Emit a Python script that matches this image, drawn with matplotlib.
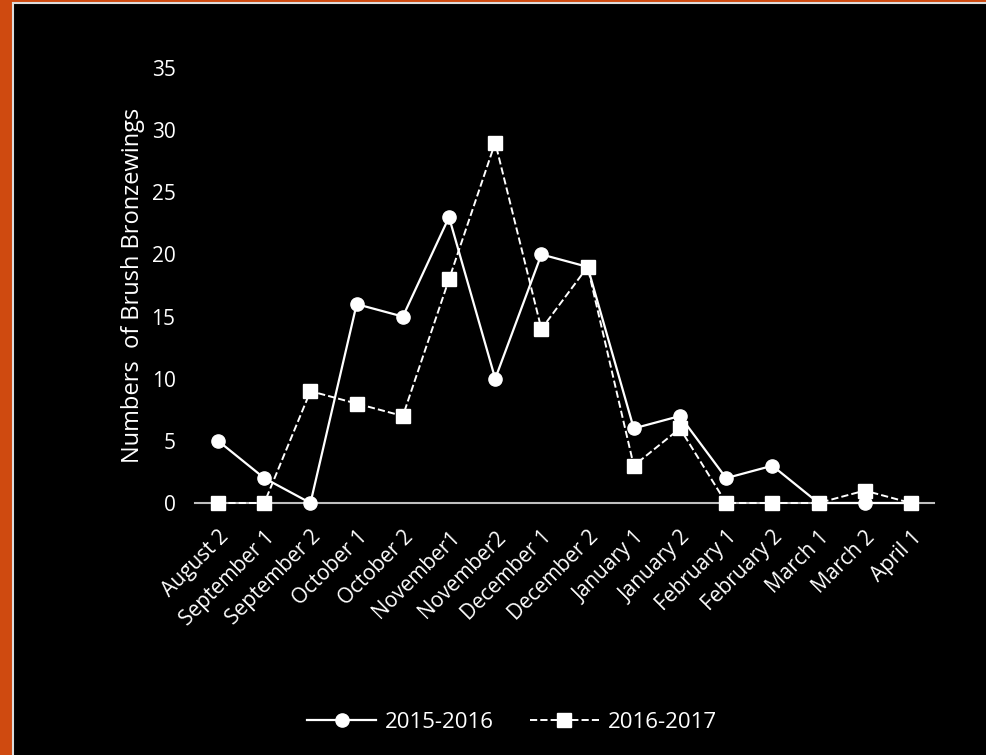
import matplotlib
matplotlib.use("Agg")
import matplotlib.pyplot as plt
from matplotlib.patches import Rectangle

# periods along the x axis
periods = ["August 2", "September 1", "September 2", "October 1", "October 2",
           "November1", "November2", "December 1", "December 2", "January 1",
           "January 2", "February 1", "February 2", "March 1", "March 2", "April 1"]

# counts of birds per period
season_2015 = [5, 2, 0, 16, 15, 23, 10, 20, 19, 6, 7, 2, 3, 0, 0, 0]
season_2016 = [0, 0, 9, 8, 7, 18, 29, 14, 19, 3, 6, 0, 0, 0, 1, 0]

yticks = [0, 5, 10, 15, 20, 25, 30, 35]

plt.rcParams['font.family'] = ['Open Sans', 'DejaVu Sans']

fig = plt.figure(figsize=(9.87, 7.55), dpi=100)
fig.patch.set_facecolor('#cf4a10')

# black panel with thin light edge
W, H = 987, 755
panel = Rectangle((13 / W, -0.01), 1.0, 1 - 3.5 / H + 0.01, transform=fig.transFigure,
                  facecolor='black', edgecolor='#dddddd', linewidth=1.5, zorder=-5)
fig.add_artist(panel)

ax = fig.add_axes([195 / W, (755 - 503) / H, (934 - 195) / W, (503 - 68) / H])
ax.set_zorder(5)
ax.set_facecolor('none')

x = range(len(periods))
ax.plot(x, season_2015, color='white', linestyle='-', linewidth=1.6,
        marker='o', markersize=9.5, label='2015-2016', zorder=3, clip_on=False)
ax.plot(x, season_2016, color='white', linestyle='--', linewidth=1.4,
        marker='s', markersize=10, label='2016-2017', zorder=3, clip_on=False)

ax.set_xlim(-0.5, len(periods) - 0.5)
ax.set_ylim(0, 35)
ax.set_yticks(yticks)
ax.set_xticks(list(x))
ax.set_xticklabels(periods, rotation=45, ha='right', rotation_mode='anchor')

for side in ['top', 'right', 'left']:
    ax.spines[side].set_visible(False)
ax.spines['bottom'].set_color('#bfbfbf')
ax.spines['bottom'].set_linewidth(1.5)
ax.spines['bottom'].set_zorder(2)
ax.tick_params(axis='both', length=0, colors='white', labelsize=15)
ax.tick_params(axis='y', pad=14)
ax.tick_params(axis='x', pad=17)

ax.set_ylabel('Numbers  of Brush Bronzewings', color='white', fontsize=17, labelpad=5)

ax.legend(loc='center', bbox_to_anchor=(512 / W, 33 / H), bbox_transform=fig.transFigure,
          ncol=2, frameon=False, labelcolor='white', fontsize=16,
          handlelength=3.1, columnspacing=1.6, handletextpad=0.4)

fig.savefig('out.png', dpi=100, facecolor=fig.get_facecolor())
